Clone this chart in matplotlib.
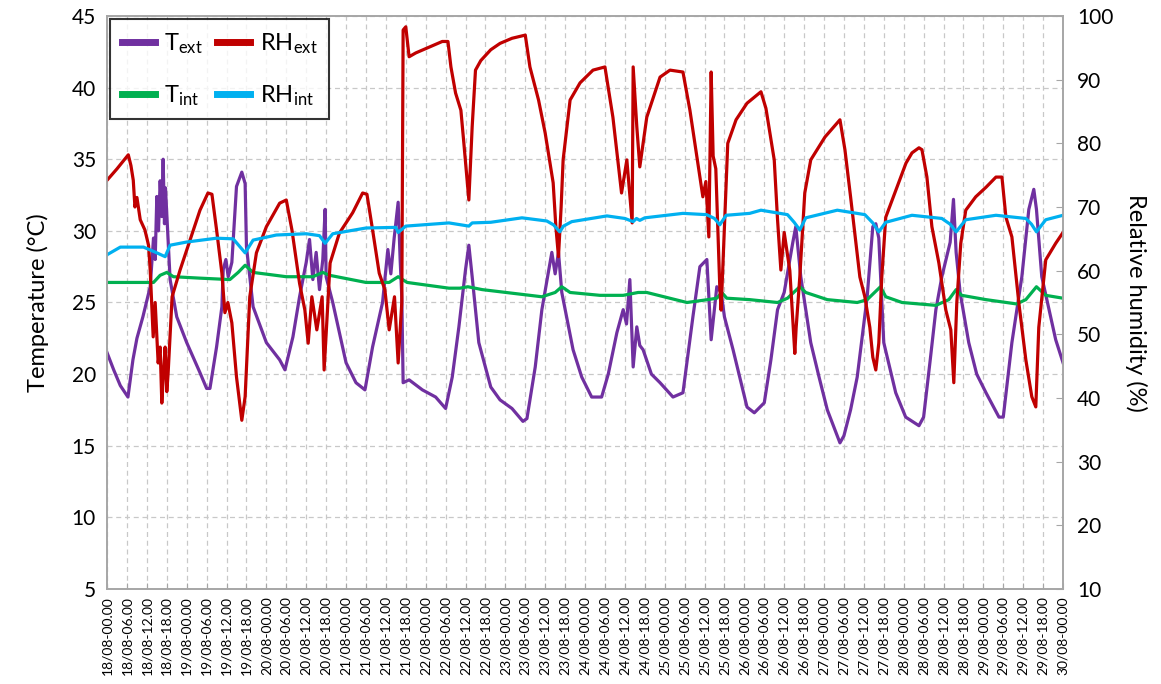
import matplotlib
matplotlib.use('Agg')
import matplotlib.pyplot as plt
import numpy as np

plt.rcParams['font.family'] = ['Lato', 'DejaVu Sans']
plt.rcParams['mathtext.fontset'] = 'custom'
plt.rcParams['mathtext.rm'] = 'Lato'
plt.rcParams['mathtext.it'] = 'Lato'

# hours from 18/08 00:00
t_ext_h = [0, 2, 4, 6.3, 7.8, 9, 10.8, 13, 14, 14.5, 15, 15.5, 16, 16.5, 16.9, 17.3, 17.6, 18, 19, 21, 24,
           28, 30, 31, 33, 34.6, 35, 35.8, 36.5, 37.6, 39, 40.6, 41.6, 42, 44, 48, 52, 53.6, 56, 58, 60, 61,
           62, 63, 64, 65, 65.7, 66, 68, 72, 75, 77.7, 80, 83, 84.6, 85.5, 86.5, 87.7, 88.3, 88.8, 89.2, 91,
           95, 99, 102, 104, 106, 108, 109, 110, 112, 115.6, 118.4, 122, 125.3, 126.5, 129, 131, 134, 135,
           136, 137, 140.4, 143, 146, 149, 151, 153.6, 155.5, 156.5, 157.5, 158.5, 159.6, 160.5, 161.5, 164,
           166.6, 170.5, 173.5, 176.5, 178.6, 180.7, 182, 183.7, 185, 186, 188.6, 192.8, 195, 198, 200, 202,
           204, 206.6, 207.5, 209, 212, 214.5, 217, 220.8, 222, 224, 226, 229, 230.7, 231.6, 232.5, 234,
           237.6, 240.6, 244.6, 246, 248, 249.7, 251.5, 254, 255, 255.8, 257, 259.6, 262, 264.8, 268.7, 270,
           272.6, 275.6, 277.7, 279.2, 280, 281.6, 285.8, 288]
t_ext = [21.5, 20.3, 19.2, 18.4, 21.0, 22.5, 24.0, 26.1, 29.5, 28.0, 32.4, 30.0, 33.5, 31.0, 35.0, 30.5, 33.0,
         31.2, 26.6, 24.0, 22.2, 20.1, 19.0, 19.0, 21.9, 24.7, 27.3, 28.0, 26.8, 27.8, 33.1, 34.1, 33.3, 28.9,
         24.7, 22.2, 21.0, 20.3, 22.6, 25.4, 27.8, 29.4, 26.6, 28.5, 25.9, 28.0, 31.5, 26.8, 25.0, 20.8, 19.4,
         18.9, 21.9, 25.0, 28.7, 27.0, 29.5, 32.0, 28.0, 25.4, 19.4, 19.6, 18.9, 18.4, 17.6, 19.8, 23.3, 27.3,
         29.0, 26.8, 22.2, 19.1, 18.2, 17.6, 16.7, 16.9, 20.5, 24.5, 28.5, 27.0, 28.5, 25.7, 21.7, 19.8, 18.4,
         18.4, 20.0, 22.9, 24.5, 23.5, 26.6, 20.5, 23.3, 22.0, 21.7, 20.0, 19.4, 18.4, 18.7, 24.0, 27.5, 28.0,
         22.4, 26.1, 25.7, 24.0, 21.7, 17.7, 17.3, 18.0, 21.0, 24.5, 25.7, 29.2, 30.3, 26.8, 22.2, 19.8, 17.5,
         15.2, 15.7, 17.5, 19.8, 25.4, 30.3, 30.5, 29.5, 22.2, 18.7, 17.0, 16.4, 17.0, 21.0, 24.5, 26.8, 29.2,
         32.2, 28.5, 25.7, 22.2, 20.0, 18.7, 17.0, 17.0, 22.2, 26.8, 31.5, 32.9, 31.5, 26.8, 22.4, 20.8]

rh_ext_h = [0, 3, 6.4, 7.2, 7.9, 8.4, 9, 10, 11.4, 12.5, 13, 13.9, 14.5, 15.4, 16, 16.5, 17, 17.5, 18, 18.4,
            19.6, 22, 26, 28, 30.4, 31.6, 33, 34.6, 35.5, 36.4, 37.6, 39, 40.6, 41.6, 43, 45, 48, 52, 54, 55.7,
            58, 59.6, 60.6, 61.7, 63.2, 64.8, 65.4, 67.2, 70, 74, 77, 78.3, 80, 82, 83.7, 85, 86.6, 87.7, 88.8,
            89.2, 90, 91, 93, 97, 101, 102.7, 103.6, 105, 106.6, 107.5, 109, 110, 111, 112.6, 115.6, 118.4,
            122, 126, 127.4, 130, 132, 134.4, 135.2, 136, 136.8, 137.4, 139.5, 142.5, 146.4, 150, 152.4, 155,
            156.6, 158.2, 158.5, 159.6, 160.5, 162.6, 166.6, 169.6, 173.5, 175.6, 178, 179.5, 180.4, 181.3,
            182, 182.6, 183.4, 184.6, 185, 186, 187, 189.5, 192.8, 197, 198.5, 201, 202, 203, 204, 205.7,
            207.2, 207.6, 208.7, 210.2, 212, 216.3, 220.8, 222.3, 224, 226.8, 228.3, 229.8, 230.7, 231.6,
            232.5, 233.4, 234.6, 237.7, 240.7, 242.5, 244.6, 245.5, 247, 248.5, 250.6, 252.7, 254.2, 255.1,
            256, 257.2, 258.7, 261.7, 264.8, 267.8, 269.6, 270.8, 272.6, 274.7, 276.8, 278.6, 279.8, 280.7,
            282.8, 285.8, 288]
rh_ext = [74.2, 76.0, 78.2, 76.5, 74.2, 70.0, 71.5, 68.0, 66.4, 64.0, 60.1, 49.6, 55.0, 45.5, 48.0, 39.2, 44.0,
          48.0, 41.0, 43.9, 55.9, 60.1, 66.4, 69.5, 72.2, 72.0, 66.4, 59.6, 53.4, 55.0, 51.8, 43.3, 36.5, 40.2,
          55.9, 62.8, 66.9, 70.6, 71.1, 66.4, 58.0, 53.8, 48.6, 55.9, 50.7, 55.9, 44.4, 61.2, 65.9, 69.1, 72.2,
          72.0, 66.4, 59.6, 57.0, 50.7, 55.9, 45.5, 55.0, 97.8, 98.3, 93.6, 94.2, 95.1, 96.0, 96.0, 92.0, 87.9,
          85.2, 80.0, 71.1, 82.6, 91.5, 93.0, 94.7, 95.7, 96.5, 97.0, 92.0, 86.8, 81.6, 73.8, 67.0, 62.2, 70.0,
          77.4, 86.8, 89.5, 91.5, 92.0, 84.1, 72.2, 77.4, 67.5, 92.0, 82.6, 76.3, 84.1, 90.4, 91.5, 91.2, 85.2,
          76.9, 71.6, 74.0, 65.3, 91.2, 78.0, 76.0, 57.4, 53.8, 67.0, 80.0, 83.7, 86.3, 88.1, 85.5, 77.4, 68.0,
          60.1, 66.0, 60.0, 47.0, 51.0, 59.0, 72.2, 77.4, 81.0, 83.7, 79.0, 71.6, 59.0, 55.9, 51.1, 46.4, 44.4,
          48.6, 59.0, 68.4, 72.7, 76.9, 78.5, 79.3, 79.0, 74.7, 66.9, 61.2, 53.8, 50.7, 42.4, 55.0, 64.3, 69.5,
          71.6, 73.1, 74.7, 74.7, 68.4, 65.3, 54.9, 46.0, 40.2, 38.6, 51.1, 61.7, 64.3, 66.0]

t_int_h = [0, 11, 14, 16, 18, 20, 28, 37, 39.5, 41.6, 44, 54, 62, 65, 67, 78, 85, 87.7, 90.4, 103, 106.3,
           108.7, 113, 131, 135, 137, 139.5, 148.5, 155.5, 160, 162.6, 174.7, 181, 183.7, 185.2, 186.7, 193.6,
           202, 205, 208.7, 210.5, 217, 226, 229, 233, 234.6, 239.5, 249.7, 253.6, 255.8, 257.5, 264.8, 274,
           276.8, 280, 282.8, 288]
t_int = [26.4, 26.4, 26.4, 26.9, 27.1, 26.8, 26.7, 26.6, 27.1, 27.6, 27.1, 26.8, 26.8, 27.1, 26.9, 26.4, 26.4,
         26.8, 26.4, 26.0, 26.0, 26.1, 25.9, 25.4, 25.7, 26.1, 25.7, 25.5, 25.5, 25.7, 25.7, 25.0, 25.2, 25.3,
         25.7, 25.3, 25.2, 25.0, 25.3, 26.1, 25.7, 25.2, 25.0, 25.2, 26.1, 25.4, 25.0, 24.8, 25.2, 25.9, 25.5,
         25.2, 24.9, 25.2, 26.1, 25.5, 25.3]

rh_int_h = [0, 4, 11, 15, 17.5, 19, 24, 33, 38, 41.6, 44, 51, 60, 64, 65.7, 68, 78, 87, 87.7, 90, 103, 109,
            110, 115.6, 125, 132.5, 134.5, 136.4, 137.5, 140, 150.6, 156, 158.5, 159.5, 160.5, 162, 173.5,
            180.6, 183, 184.6, 186.5, 193.6, 197, 205, 207, 208.7, 210.5, 220, 228.3, 230.7, 232.5, 234.6,
            242.5, 251.5, 254, 255.8, 258.7, 267.8, 276.8, 278.5, 280, 282.8, 288]
rh_int = [62.5, 63.7, 63.7, 62.8, 62.2, 64.0, 64.5, 65.1, 65.0, 62.8, 64.8, 65.6, 65.8, 65.5, 64.3, 65.8, 66.7,
          66.8, 66.0, 67.0, 67.5, 67.0, 67.5, 67.6, 68.3, 67.8, 67.2, 66.1, 67.0, 67.7, 68.6, 68.2, 67.7, 68.2,
          67.9, 68.3, 69.0, 68.8, 68.2, 67.2, 68.7, 69.0, 69.5, 68.8, 67.6, 66.4, 68.3, 69.5, 68.8, 67.5, 66.1,
          67.6, 68.7, 68.2, 67.3, 66.1, 68.0, 68.7, 68.2, 67.3, 66.1, 68.0, 68.7]

tick_hours = list(range(0, 289, 6))
tick_labels = ['%02d/08-%02d.00' % (18 + h // 24, h % 24) for h in tick_hours]

PURPLE = '#7030A0'
RED = '#C00000'
GREEN = '#00B050'
BLUE = '#00B0F0'
GRID = '#c8c8c8'
SPINE = '#a6a6a6'

fig = plt.figure(figsize=(11.61, 6.84), dpi=100)
ax = fig.add_axes([0.0922, 0.1389, 0.8234, 0.8377])
ax2 = ax.twinx()

l1, = ax.plot(t_ext_h, t_ext, color=PURPLE, lw=2.3, label=r'T$_{\mathrm{ext}}$')
l2, = ax.plot(t_int_h, t_int, color=GREEN, lw=2.3, label=r'T$_{\mathrm{int}}$')
l3, = ax2.plot(rh_ext_h, rh_ext, color=RED, lw=2.3, label=r'RH$_{\mathrm{ext}}$')
l4, = ax2.plot(rh_int_h, rh_int, color=BLUE, lw=2.3, label=r'RH$_{\mathrm{int}}$')

ax.set_xlim(0, 288)
ax.set_ylim(5, 45)
ax2.set_ylim(10, 100)
ax.set_yticks(range(5, 46, 5))
ax2.set_yticks(range(10, 101, 10))
ax.set_xticks(tick_hours)
ax.set_xticklabels(tick_labels, rotation=90, fontsize=10)

ax.grid(True, color=GRID, linestyle=(0, (4, 3)), linewidth=0.9)
ax.set_axisbelow(True)

ax.tick_params(axis='y', labelsize=15, length=0, pad=8)
ax.tick_params(axis='x', length=4, direction='in', color=SPINE, pad=5)
ax2.tick_params(axis='y', labelsize=15, length=5, direction='in', color=SPINE, pad=10)

for a in (ax, ax2):
    for s in a.spines.values():
        s.set_color(SPINE)
        s.set_linewidth(1.2)

ax.set_ylabel('Temperature (°C)', fontsize=17, labelpad=16)
ax2.set_ylabel('Relative humidity (%)', fontsize=17, rotation=270, labelpad=24)

leg = ax2.legend(handles=[l1, l2, l3, l4], ncol=2, loc='upper left', bbox_to_anchor=(0.003, 0.994),
                 fontsize=17, frameon=True, fancybox=False, edgecolor='black', handlelength=1.4,
                 handletextpad=0.4, columnspacing=0.6, borderpad=0.5, labelspacing=1.15,
                 borderaxespad=0)
leg.get_frame().set_linewidth(1.5)
for h in leg.get_lines():
    h.set_linewidth(5)

fig.savefig('out.png', dpi=100)
